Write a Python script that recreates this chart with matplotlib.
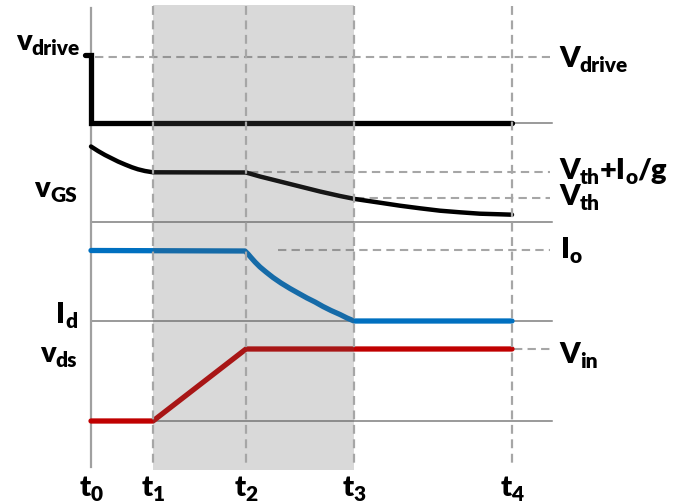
import matplotlib
matplotlib.use("Agg")
import matplotlib.pyplot as plt
from matplotlib.patches import Rectangle

plt.rcParams['font.family'] = ['Lato', 'DejaVu Sans']

# time instants (horizontal position units)
t_names = ['0', '1', '2', '3', '4']
t_vals = [91, 153, 246, 354, 512]

# signal levels (vertical position units, measured downward)
drive_t = [85, 91, 91, 512]
drive_y = [55, 55, 123, 123]

vgs_t = [91, 98, 105, 112, 118, 125, 132, 138, 145, 153, 246, 260, 280, 300, 320, 340,
         355, 380, 400, 420, 440, 460, 480, 500, 512]
vgs_y = [146.5, 151, 155, 158.5, 161.5, 164.5, 167.3, 169.3, 171, 172.3, 172.5, 176.5, 181.5,
         186.5, 191.5, 196, 199, 202.7, 205.7, 208.3, 210.7, 212.3, 213.7, 214.3, 214.7]

id_t = [91, 245, 248, 251, 255, 260, 266, 273, 281, 290, 298, 307, 315, 323, 331, 340, 347, 354, 512]
id_y = [250.5, 251, 254, 257.5, 262, 267, 272, 277.5, 283, 288.5, 293, 298, 302, 306.5,
        310.5, 314.5, 318, 321, 321]

vds_t = [91, 153, 246, 512]
vds_y = [421, 421, 349, 349]

base_levels = [123, 222, 321, 421]
ref_levels = {'V_drive': 57, 'Vth+Io/g': 172, 'V_th': 198, 'I_o': 250, 'V_in': 349}

fig = plt.figure(figsize=(6.75, 5.04), dpi=100)
ax = fig.add_axes([0, 0, 1, 1])
ax.set_xlim(0, 675)
ax.set_ylim(504, 0)
ax.axis('off')

gray = '#7f7f7f'
dgray = '#a6a6a6'
dash = (0, (4, 2.5))

for y in base_levels:
    ax.plot([t_vals[0], 552], [y, y], color=gray, lw=1.1, zorder=1)
ax.plot([t_vals[0], t_vals[0]], [8, 467], color='#a0a0a0', lw=1.6, zorder=1)

ax.plot([95, 550], [ref_levels['V_drive']] * 2, color=dgray, lw=1.5, ls=dash, zorder=1)
ax.plot([250, 550], [ref_levels['Vth+Io/g']] * 2, color=dgray, lw=1.5, ls=dash, zorder=1)
ax.plot([356, 550], [ref_levels['V_th']] * 2, color=dgray, lw=1.5, ls=dash, zorder=1)
ax.plot([278, 550], [ref_levels['I_o']] * 2, color=dgray, lw=1.5, ls=dash, zorder=1)
ax.plot([514, 550], [ref_levels['V_in']] * 2, color=dgray, lw=1.5, ls=dash, zorder=1)

for tv in t_vals[1:]:
    ax.plot([tv, tv], [6, 468], color=dgray, lw=1.6, ls=dash, zorder=4)

ax.plot(drive_t, drive_y, color='black', lw=3.8, solid_capstyle='round', solid_joinstyle='miter', zorder=3)
ax.plot(vgs_t, vgs_y, color='black', lw=3.2, solid_capstyle='round', solid_joinstyle='round', zorder=3)
ax.plot(id_t, id_y, color='#0070C0', lw=3.8, solid_capstyle='round', solid_joinstyle='round', zorder=3)
ax.plot(vds_t, vds_y, color='#C00000', lw=3.8, solid_capstyle='round', zorder=3)

ax.add_patch(Rectangle((t_vals[1], 5), t_vals[3] - t_vals[1], 465,
                       facecolor='#5e5e5e', alpha=0.235, edgecolor='none', zorder=3.5))

# ---- labels with subscripts, built from bold text pieces ----
renderer = fig.canvas.get_renderer()
FS_MAIN, FS_SUB, SUB_DROP = 21, 15, 5
WEIGHT = 'heavy'


def label(x, y, parts, ha='left'):
    """parts: list of (text, is_subscript). x, y: baseline anchor in data units."""
    widths = []
    for txt, sub in parts:
        t = ax.text(0, 0, txt, fontsize=FS_SUB if sub else FS_MAIN, fontweight=WEIGHT)
        widths.append(t.get_window_extent(renderer).width)
        t.remove()
    total = sum(widths)
    if ha == 'right':
        x0 = x - total
    elif ha == 'center':
        x0 = x - total / 2
    else:
        x0 = x
    cx = x0
    for (txt, sub), w in zip(parts, widths):
        ax.text(cx, y + (SUB_DROP if sub else 0), txt, fontsize=FS_SUB if sub else FS_MAIN,
                fontweight=WEIGHT, ha='left', va='baseline')
        cx += w


label(80, 50, [('v', False), ('drive', True)], ha='right')
label(77, 197, [('v', False), ('GS', True)], ha='right')
label(77, 323, [('I', False), ('d', True)], ha='right')
label(77, 362, [('v', False), ('ds', True)], ha='right')

label(559, 67, [('V', False), ('drive', True)])
label(559, 179, [('V', False), ('th', True), ('+I', False), ('o', True), ('/g', False)])
label(559, 205, [('V', False), ('th', True)])
label(561, 258, [('I', False), ('o', True)])
label(559, 363, [('V', False), ('in', True)])

for name, tv in zip(t_names, t_vals):
    label(tv, 496, [('t', False), (name, True)], ha='center')

fig.savefig('out.png', dpi=100)
